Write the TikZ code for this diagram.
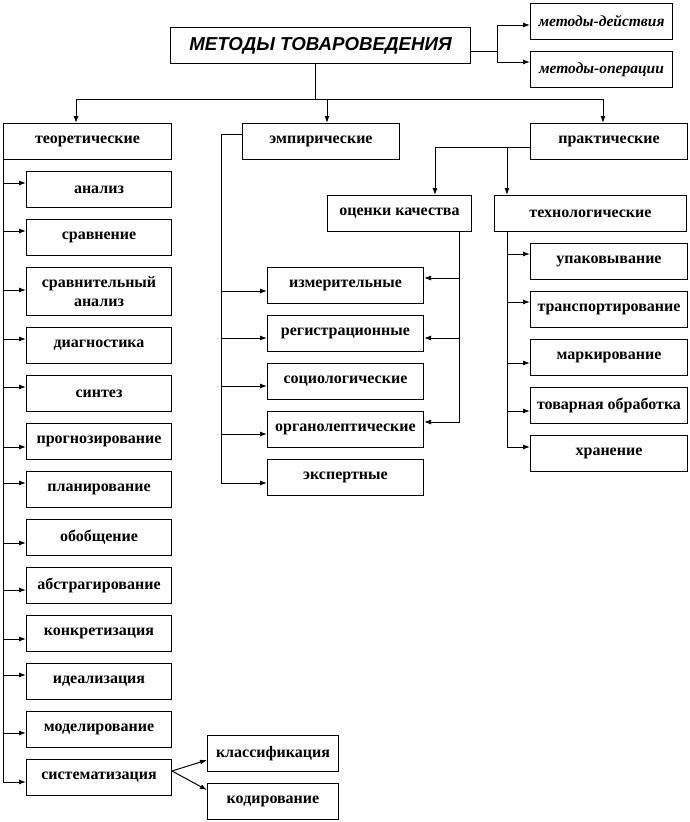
\documentclass[tikz,border=0pt]{standalone}
\usepackage{fontspec}
\setmainfont{Liberation Serif}
\newfontfamily\titlefont{Liberation Sans}
\usetikzlibrary{arrows.meta,calc}
\tikzset{
  bx/.style={draw, line width=1pt, inner sep=0pt, anchor=north west, minimum height=36pt, align=center,
     font=\bfseries\fontsize{16}{19}\selectfont},
  ln/.style={line width=1pt},
  arr/.style={line width=1pt, -{Latex[length=7pt,width=5pt]}},
}
\begin{document}
\begin{tikzpicture}[x=1pt,y=-1pt]
\useasboundingbox (0,0) rectangle (690,822);
% top level
\node[bx, minimum width=300pt, font=\titlefont\bfseries\itshape\fontsize{18.7}{20}\selectfont] (main) at (170,27) {МЕТОДЫ ТОВАРОВЕДЕНИЯ};
\node[bx, minimum width=142pt, font=\bfseries\itshape\fontsize{15.5}{17}\selectfont] (d1) at (530,3) {методы-действия};
\node[bx, minimum width=142pt, font=\bfseries\itshape\fontsize{15.5}{17}\selectfont] (d2) at (530,51) {методы-операции};
\node[bx, minimum width=168pt] (theo) at (3,123) {теоретические};
\node[bx, minimum width=157pt] (emp) at (242,123) {эмпирические};
\node[bx, minimum width=157pt] (prac) at (530,123) {практические};
\node[bx, minimum width=144pt] (oc) at (327,195) {оценки качества};
\node[bx, minimum width=192pt] (tech) at (494,195) {технологические};
% theoretical
\node[bx, minimum width=145pt] (t1) at (26,171) {анализ};
\node[bx, minimum width=145pt] (t2) at (26,219) {сравнение};
\node[bx, minimum width=145pt, minimum height=48pt] (t3) at (26,267) {сравнительный\\анализ};
\node[bx, minimum width=145pt] (t4) at (26,327) {диагностика};
\node[bx, minimum width=145pt] (t5) at (26,375) {синтез};
\node[bx, minimum width=145pt] (t6) at (26,423) {прогнозирование};
\node[bx, minimum width=145pt] (t7) at (26,471) {планирование};
\node[bx, minimum width=145pt] (t8) at (26,519) {обобщение};
\node[bx, minimum width=145pt] (t9) at (26,567) {абстрагирование};
\node[bx, minimum width=145pt] (t10) at (26,615) {конкретизация};
\node[bx, minimum width=145pt] (t11) at (26,663) {идеализация};
\node[bx, minimum width=145pt] (t12) at (26,711) {моделирование};
\node[bx, minimum width=145pt] (t13) at (26,759) {систематизация};
\node[bx, minimum width=131pt] (cls) at (207,735) {классификация};
\node[bx, minimum width=131pt] (cod) at (207,783) {кодирование};
% empirical
\node[bx, minimum width=156pt] (e1) at (267,267) {измерительные};
\node[bx, minimum width=156pt] (e2) at (267,315) {регистрационные};
\node[bx, minimum width=156pt] (e3) at (267,363) {социологические};
\node[bx, minimum width=156pt] (e4) at (267,411) {органолептические};
\node[bx, minimum width=156pt] (e5) at (267,459) {экспертные};
% technological
\node[bx, minimum width=157pt] (p1) at (530,243) {упаковывание};
\node[bx, minimum width=157pt] (p2) at (530,291) {транспортирование};
\node[bx, minimum width=157pt] (p3) at (530,339) {маркирование};
\node[bx, minimum width=157pt] (p4) at (530,387) {товарная обработка};
\node[bx, minimum width=157pt] (p5) at (530,435) {хранение};

% connectors: main to methods
\coordinate (jr) at ($(main.north east)+(26,24)$);
\draw[ln] ($(main.north east)+(0,24)$) -- (jr);
\draw[arr] (jr) |- ($(d1.north west)+(0,22)$);
\draw[arr] (jr) |- ($(d2.north west)+(0,11)$);
% main to three groups
\coordinate (top) at ($(main.south west)+(145,35)$);
\draw[ln] ($(main.south west)+(145,0)$) -- (top);
\draw[arr] (top) -| ($(theo.north west)+(73,0)$);
\draw[arr] (top) -| ($(emp.north west)+(85,0)$);
\draw[arr] (top) -| ($(prac.north west)+(73,0)$);
% theoretical trunk
\foreach \n/\d in {t1/12,t2/12,t3/23,t4/12,t5/12,t6/24,t7/12,t8/24,t9/23,t10/24,t11/12,t12/22,t13/23}
  \draw[arr] (theo.south west) |- ($(\n.north west)+(0,\d)$);
\draw[arr] ($(t13.north east)+(0,12)$) -- ($(cls.north west)+(0,25)$);
\draw[arr] ($(t13.north east)+(0,12)$) -- ($(cod.north west)+(0,7)$);
% empirical trunk
\coordinate (ej) at ($(emp.north west)+(-21,11)$);
\draw[ln] ($(emp.north west)+(0,11)$) -- (ej);
\foreach \n/\d in {e1/24,e2/23,e3/23,e4/23,e5/24}
  \draw[arr] (ej) |- ($(\n.north west)+(0,\d)$);
% practical
\coordinate (pj) at ($(prac.north west)+(-95,24)$);
\draw[ln] ($(prac.north west)+(0,24)$) -- (pj);
\draw[arr] (pj) -- ($(oc.north west)+(108,0)$);
\draw[arr] ($(tech.north west)+(13,-48)$) -- ($(tech.north west)+(13,0)$);
% quality assessment to empirical boxes
\foreach \n/\d in {e1/11,e2/23,e4/11}
  \draw[arr] ($(oc.south west)+(132,0)$) |- ($(\n.north east)+(0,\d)$);
% technological trunk
\foreach \n/\d in {p1/11,p2/11,p3/24,p4/24,p5/12}
  \draw[arr] ($(tech.south west)+(13,0)$) |- ($(\n.north west)+(0,\d)$);
\end{tikzpicture}
\end{document}
